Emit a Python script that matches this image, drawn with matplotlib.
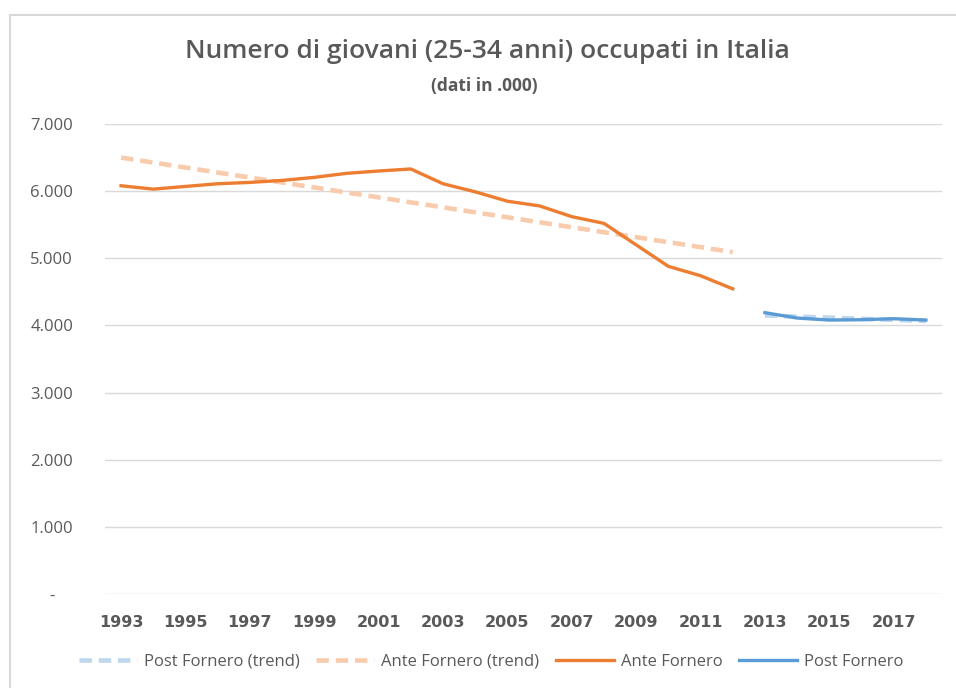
import numpy as np
import matplotlib.pyplot as plt
from matplotlib.patches import Rectangle

# --- Data (migliaia) ---
anni_ante = [1993, 1994, 1995, 1996, 1997, 1998, 1999, 2000, 2001, 2002,
             2003, 2004, 2005, 2006, 2007, 2008, 2009, 2010, 2011, 2012]
ante_fornero = [6080, 6030, 6070, 6110, 6130, 6160, 6205, 6265, 6300, 6330,
                6110, 5990, 5850, 5780, 5620, 5520, 5200, 4880, 4740, 4545]
anni_post = [2013, 2014, 2015, 2016, 2017, 2018]
post_fornero = [4190, 4110, 4080, 4085, 4100, 4080]

tick_anni = list(range(1993, 2018, 2))
y_ticks = [0, 1000, 2000, 3000, 4000, 5000, 6000, 7000]

# linear trends, as Excel computes them
ante_trend = np.polyval(np.polyfit(anni_ante, ante_fornero, 1), anni_ante)
post_trend = np.polyval(np.polyfit(anni_post, post_fornero, 1), anni_post)

ORANGE = '#ED7D31'
ORANGE_LT = '#F8CBAD'
BLUE = '#5B9BD5'
BLUE_LT = '#BDD7EE'
GREY = '#595959'

fig = plt.figure(figsize=(9.56, 6.88), dpi=100)
ax = fig.add_axes([105/956, 1 - 594/688, (942 - 105)/956, (594 - 124)/688])

# chart border
fig.patches.append(Rectangle((10/956, -0.1), 2, 1.1 - 15/688, transform=fig.transFigure,
                             fill=False, edgecolor='#D9D9D9', linewidth=1.5))

ax.plot(anni_post, post_trend, color=BLUE_LT, linewidth=3.3, linestyle=(0, (2.7, 1.5)),
        label='Post Fornero (trend)')
ax.plot(anni_ante, ante_trend, color=ORANGE_LT, linewidth=3.3, linestyle=(0, (2.7, 1.5)),
        label='Ante Fornero (trend)')
ax.plot(anni_ante, ante_fornero, color=ORANGE, linewidth=2.4, label='Ante Fornero')
ax.plot(anni_post, post_fornero, color=BLUE, linewidth=2.4, label='Post Fornero')

ax.set_xlim(1992.5, 2018.5)
ax.set_ylim(0, 7000)
ax.set_yticks(y_ticks)
ax.set_yticklabels(['-    '] + [f'{v:,}'.replace(',', '.') for v in y_ticks[1:]],
                   fontsize=12, color=GREY, family=['Open Sans', 'DejaVu Sans'])
ax.set_xticks(tick_anni)
ax.set_xticklabels([str(a) for a in tick_anni], fontsize=11.5, fontweight='bold', color=GREY)
ax.tick_params(axis='both', length=0)
ax.tick_params(axis='y', pad=23)
ax.tick_params(axis='x', pad=15)
ax.grid(axis='y', color='#D9D9D9', linewidth=1)
ax.set_axisbelow(True)
for s in ax.spines.values():
    s.set_visible(False)

fig.text(487/956, 1 - 52/688, 'Numero di giovani (25-34 anni) occupati in Italia', ha='center', va='center',
         fontsize=19, fontweight='semibold', color=GREY, family=['Open Sans', 'DejaVu Sans'])
fig.text(484/956, 1 - 86/688, '(dati in .000)', ha='center', va='center',
         fontsize=12.5, fontweight='bold', color=GREY, family=['Open Sans', 'DejaVu Sans'])

leg = fig.legend(*ax.get_legend_handles_labels(), loc='center', bbox_to_anchor=(491/956, 1 - 662/688),
                 ncol=4, frameon=False, handlelength=3.5, columnspacing=1.0, handletextpad=0.4,
                 prop={'family': ['Open Sans', 'DejaVu Sans'], 'size': 12})
for t in leg.get_texts():
    t.set_color(GREY)

plt.savefig('out.png', dpi=100)
